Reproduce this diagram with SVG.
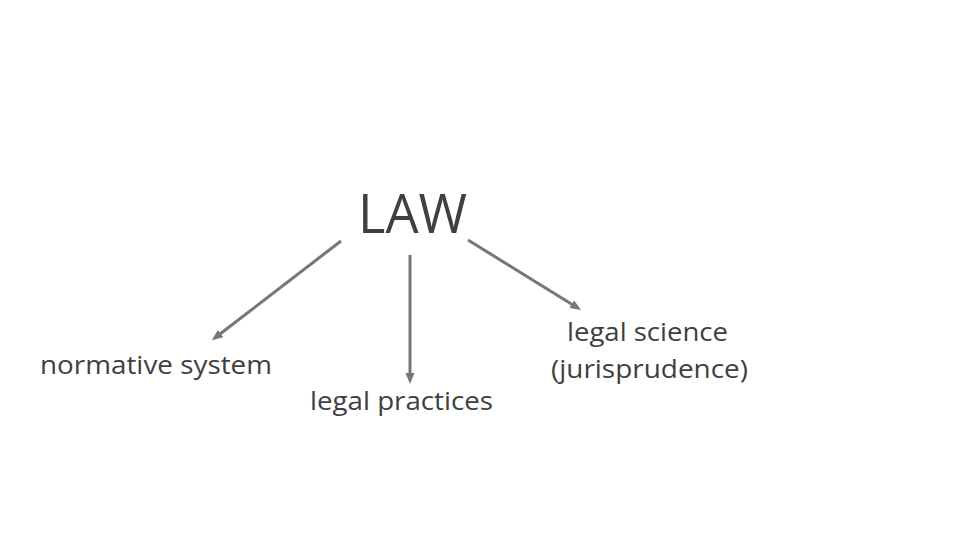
<svg xmlns="http://www.w3.org/2000/svg" width="960" height="540" viewBox="0 0 960 540">
<style>
.t{font-family:"Open Sans","Liberation Sans",sans-serif;fill:#404040}
.c{stroke:#767676;stroke-width:3;fill:none}
</style>
<defs>
<marker id="ah" markerUnits="userSpaceOnUse" markerWidth="12" markerHeight="10" refX="2" refY="4.5" orient="auto" viewBox="0 0 12 10">
<path d="M0,0 L11,4.5 L0,9 z" fill="#767676"/>
</marker>
</defs>
<rect width="960" height="540" fill="#fff"/>
<g id="connectors">
<line class="c" x1="341" y1="241" x2="219" y2="334.7" marker-end="url(#ah)"/>
<line class="c" x1="410" y1="255" x2="410" y2="375" marker-end="url(#ah)"/>
<line class="c" x1="468" y1="240" x2="573.4" y2="305.3" marker-end="url(#ah)"/>
</g>
<g id="law"><text class="t" x="358" y="233" font-size="55" textLength="109" lengthAdjust="spacingAndGlyphs">LAW</text></g>
<g id="normative"><text class="t" x="40" y="374" font-size="25" textLength="232" lengthAdjust="spacingAndGlyphs">normative system</text></g>
<g id="practices"><text class="t" x="310" y="410" font-size="25" textLength="183" lengthAdjust="spacingAndGlyphs">legal practices</text></g>
<g id="science">
<text class="t" x="567" y="341" font-size="25" textLength="161" lengthAdjust="spacingAndGlyphs">legal science</text>
<text class="t" x="551" y="378" font-size="25" textLength="197" lengthAdjust="spacingAndGlyphs">(jurisprudence)</text>
</g>
</svg>
